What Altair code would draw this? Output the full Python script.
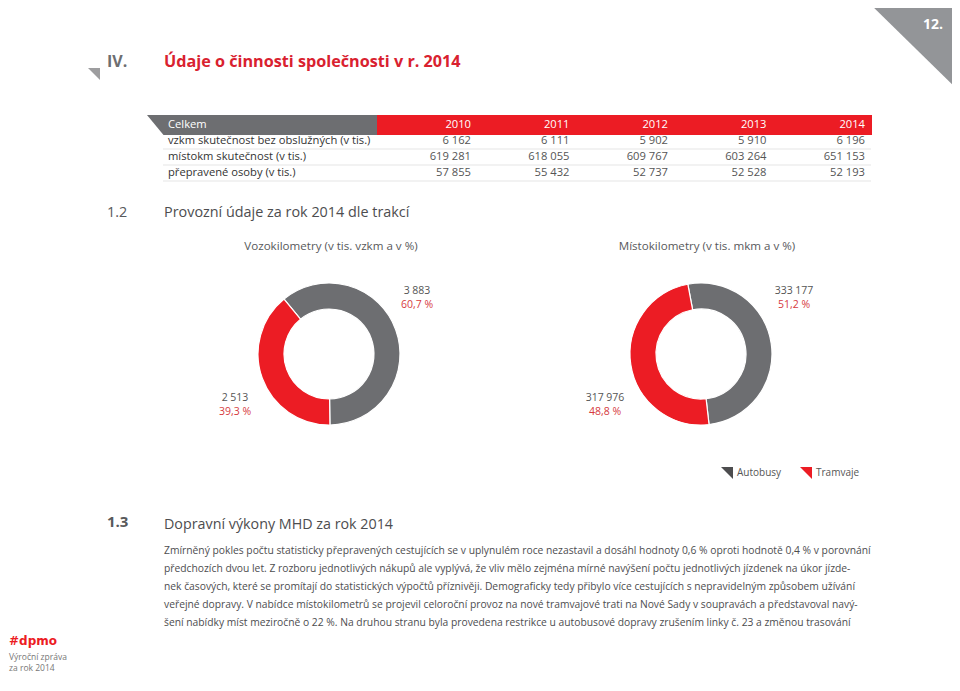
import math
import altair as alt
import pandas as pd

# ---------------- data ----------------
page_number = ["12."]
chapter_no = ["IV."]
chapter_title = ["Údaje o činnosti společnosti v r. 2014"]

table_corner = ["Celkem"]
table_years = [2010, 2011, 2012, 2013, 2014]
table_rows = [
    "vzkm skutečnost bez obslužných (v tis.)",
    "místokm skutečnost (v tis.)",
    "přepravené osoby (v tis.)",
]
vzkm_series = [6162, 6111, 5902, 5910, 6196]
mistokm_series = [619281, 618055, 609767, 603264, 651153]
osoby_series = [57855, 55432, 52737, 52528, 52193]

section_12 = ["1.2", "Provozní údaje za rok 2014 dle trakcí"]
donut_titles = ["Vozokilometry (v tis. vzkm a v %)", "Místokilometry (v tis. mkm a v %)"]
traction_types = ["Autobusy", "Tramvaje"]
vzkm_2014 = [3883, 2513]
mkm_2014 = [333177, 317976]

section_13 = ["1.3", "Dopravní výkony MHD za rok 2014"]
paragraph_lines = [
    "Zmírněný pokles počtu statisticky přepravených cestujících se v uplynulém roce nezastavil a dosáhl hodnoty 0,6 % oproti hodnotě 0,4 % v porovnání",
    "předchozích dvou let. Z rozboru jednotlivých nákupů ale vyplývá, že vliv mělo zejména mírné navýšení počtu jednotlivých jízdenek na úkor jízde-",
    "nek časových, které se promítají do statistických výpočtů příznivěji. Demograficky tedy přibylo více cestujících s nepravidelným způsobem užívání",
    "veřejné dopravy. V nabídce místokilometrů se projevil celoroční provoz na nové tramvajové trati na Nové Sady v soupravách a představoval navý-",
    "šení nabídky míst meziročně o 22 %. Na druhou stranu byla provedena restrikce u autobusové dopravy zrušením linky č. 23 a změnou trasování",
]
footer_logo = ["#dpmo"]
footer_lines = ["Výroční zpráva", "za rok 2014"]

# ---------------- styling ----------------
W, H = 944, 672
OX, OY = 8, 8
FONT = "Open Sans"
GRAY = "#6d6e71"
RED = "#ec1c24"
TITLE_RED = "#d9212f"
TXT = "#4d4d4f"
LIGHT_GRAY = "#939598"


def P(x):
    return x - OX


def Q(y):
    return y - OY


def fmt(v):
    return f"{v:,}".replace(",", " ")


def pct(v, total):
    return f"{100 * v / total:.1f}".replace(".", ",") + " %"


one = pd.DataFrame({"k": [0]})


def text_layer(s, x, y, size=11, color=TXT, weight="normal", align="left", font=FONT):
    return alt.Chart(pd.DataFrame({"t": [s]})).mark_text(
        align=align, baseline="middle", fontSize=size, color=color,
        fontWeight=weight, font=font,
    ).encode(text="t:N", x=alt.value(P(x)), y=alt.value(Q(y)))


def poly(path, x, y, color):
    return alt.Chart(one).mark_point(
        shape=path, size=4, filled=True, opacity=1, color=color, strokeWidth=0
    ).encode(x=alt.value(P(x)), y=alt.value(Q(y)))


layers = []

# header decorations
layers.append(poly("M0,0L94,0L94,92Z", 866, 0, LIGHT_GRAY))
layers.append(text_layer(page_number[0], 933, 25, size=14, color="white", weight="bold", align="center"))
layers.append(poly("M0,0L12,0L12,12Z", 88, 68, "#9d9d9f"))
layers.append(text_layer(chapter_no[0], 107, 62, size=16, color=GRAY, weight="bold"))
layers.append(text_layer(chapter_title[0], 164, 62, size=16.2, color=TITLE_RED, weight="bold"))

# table
layers.append(poly("M0,0L230,0L230,20L16.5,20Z", 147, 115, GRAY))
layers.append(poly("M0,0L495,0L495,20L0,20Z", 377, 115, RED))

xs = alt.Scale(domain=[2010, 2014], range=[P(471), P(865)], nice=False, zero=False)
ys = alt.Scale(domain=[0, 3], range=[Q(125), Q(173)], nice=False, zero=False)

sep_df = pd.DataFrame({"radek": [1.5, 2.5, 3.5]})
layers.append(alt.Chart(sep_df).mark_rule(color="#dedede", strokeWidth=0.8).encode(
    x=alt.value(P(163)), x2=alt.value(P(871)),
    y=alt.Y("radek:Q", scale=ys, axis=None)))

hdr_df = pd.DataFrame({"rok": table_years, "radek": 0, "t": [str(y) for y in table_years]})
layers.append(alt.Chart(hdr_df).mark_text(align="right", baseline="middle", fontSize=11.2, color="white", font=FONT).encode(
    x=alt.X("rok:Q", scale=xs, axis=None), y=alt.Y("radek:Q", scale=ys, axis=None), text="t:N"))

corner_df = pd.DataFrame({"radek": [0], "t": table_corner})
layers.append(alt.Chart(corner_df).mark_text(align="left", baseline="middle", fontSize=11.2, font=FONT, color="white").encode(
    x=alt.value(P(168)), y=alt.Y("radek:Q", scale=ys, axis=None), text="t:N"))

lab_df = pd.DataFrame({"radek": [1, 2, 3], "t": table_rows})
layers.append(alt.Chart(lab_df).mark_text(align="left", baseline="middle", fontSize=11.2, font=FONT, color="#333333").encode(
    x=alt.value(P(168)), y=alt.Y("radek:Q", scale=ys, axis=None), text="t:N"))

rows = []
for i, series in enumerate([vzkm_series, mistokm_series, osoby_series]):
    for yr, v in zip(table_years, series):
        rows.append({"rok": yr, "radek": i + 1, "t": fmt(v)})
val_df = pd.DataFrame(rows)
layers.append(alt.Chart(val_df).mark_text(align="right", baseline="middle", fontSize=11.2, color="#555555", font=FONT).encode(
    x=alt.X("rok:Q", scale=xs, axis=None), y=alt.Y("radek:Q", scale=ys, axis=None), text="t:N"))

# section 1.2
layers.append(text_layer(section_12[0], 107, 213, size=14.4, color="#58595b"))
layers.append(text_layer(section_12[1], 164, 213, size=14.4, color="#4d4d4f"))
layers.append(text_layer(donut_titles[0], 331, 247, size=11.6, color="#58595b", align="center"))
layers.append(text_layer(donut_titles[1], 707, 247, size=11.6, color="#58595b", align="center"))

# donuts
color_scale = alt.Scale(domain=traction_types, range=[GRAY, RED])


def donut(values, cx, cy, start_deg):
    df = pd.DataFrame({"typ": traction_types, "hodnota": values, "poradi": [0, 1]})
    a = math.radians(start_deg)
    return alt.Chart(df).mark_arc(innerRadius=45, outerRadius=71, stroke="white", strokeWidth=1.2).encode(
        theta=alt.Theta("hodnota:Q", stack=True, scale=alt.Scale(range=[a, a + 2 * math.pi])),
        color=alt.Color("typ:N", scale=color_scale, legend=None),
        order=alt.Order("poradi:Q"),
        x=alt.value(P(cx)), y=alt.value(Q(cy)),
    )


layers.append(donut(vzkm_2014, 329, 354, -39.3))
layers.append(donut(mkm_2014, 701, 354, -10.7))

t1, t2 = sum(vzkm_2014), sum(mkm_2014)
LBL = "#555555"
PCT = "#d63a40"
LS = 10.5
layers.append(text_layer(fmt(vzkm_2014[0]), 417, 291, size=LS, color=LBL, align="center"))
layers.append(text_layer(pct(vzkm_2014[0], t1), 417, 304.5, size=LS, color=PCT, align="center"))
layers.append(text_layer(fmt(vzkm_2014[1]), 235, 398, size=LS, color=LBL, align="center"))
layers.append(text_layer(pct(vzkm_2014[1], t1), 235, 411.5, size=LS, color=PCT, align="center"))
layers.append(text_layer(fmt(mkm_2014[0]), 794, 291, size=LS, color=LBL, align="center"))
layers.append(text_layer(pct(mkm_2014[0], t2), 794, 304.5, size=LS, color=PCT, align="center"))
layers.append(text_layer(fmt(mkm_2014[1]), 605, 398, size=LS, color=LBL, align="center"))
layers.append(text_layer(pct(mkm_2014[1], t2), 605, 411.5, size=LS, color=PCT, align="center"))

# legend
layers.append(poly("M0,0L12,0L12,12Z", 721, 467, "#4d4d4f"))
layers.append(text_layer(traction_types[0], 737, 473, size=10, color=LBL))
layers.append(poly("M0,0L12,0L12,12Z", 800, 467, RED))
layers.append(text_layer(traction_types[1], 816, 473, size=10, color=LBL))

# section 1.3
layers.append(text_layer(section_13[0], 107, 522, size=15, color="#58595b", weight="bold"))
layers.append(text_layer(section_13[1], 164, 525, size=14.3, color="#4d4d4f"))
for i, line in enumerate(paragraph_lines):
    layers.append(text_layer(line, 164, 551 + 18 * i, size=10.3, color="#4d4d4f"))

# footer
layers.append(text_layer(footer_logo[0], 9, 641, size=12, color=RED, weight="bold", font="DejaVu Sans"))
layers.append(text_layer(footer_lines[0], 9, 657, size=8.5, color="#777777"))
layers.append(text_layer(footer_lines[1], 9, 668, size=8.5, color="#777777"))

chart = alt.layer(*layers).resolve_scale(theta="independent", color="independent").properties(
    width=W, height=H, autosize=alt.AutoSizeParams(type="none"), padding=0,
    background="white",
).configure_view(stroke=None)

chart.save("out.html", embed_options={"renderer": "svg", "actions": False})
